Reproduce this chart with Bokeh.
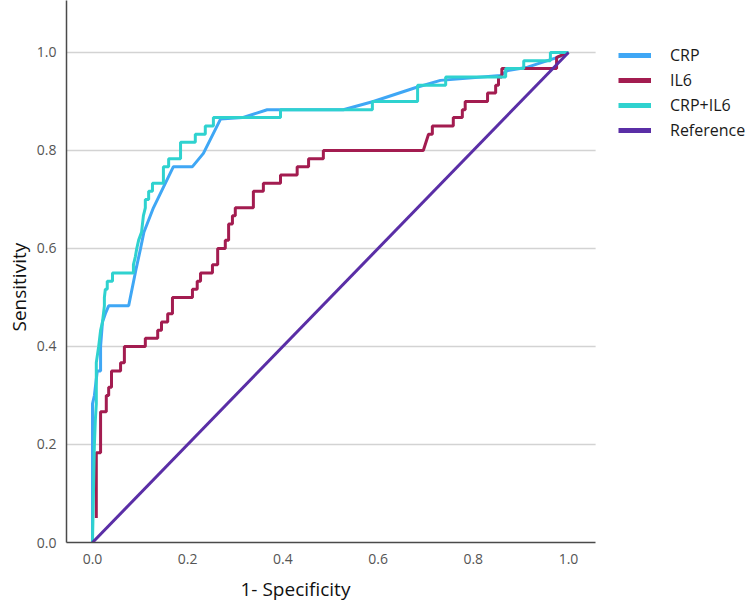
from bokeh.plotting import figure
from bokeh.models import Range1d, Legend, LegendItem, PrintfTickFormatter, Title
from bokeh.embed import file_html
from bokeh.resources import INLINE

# ---- data (1 - specificity, sensitivity) ----
crp_points = [(0.0, 0.0), (0.0, 0.283), (0.004, 0.30), (0.010, 0.35), (0.017, 0.35),
              (0.017, 0.40), (0.021, 0.45), (0.027, 0.467), (0.034, 0.483), (0.076, 0.483),
              (0.092, 0.56), (0.101, 0.60), (0.108, 0.633), (0.128, 0.683), (0.170, 0.767),
              (0.210, 0.767), (0.233, 0.794), (0.269, 0.864), (0.315, 0.867), (0.367, 0.883),
              (0.527, 0.883), (0.590, 0.90), (0.678, 0.928), (0.731, 0.943), (0.857, 0.953),
              (0.872, 0.963), (0.914, 0.97), (0.977, 0.99), (1.0, 1.0)]

il6_points = [(0.008, 0.050), (0.008, 0.183), (0.017, 0.183), (0.017, 0.267), (0.029, 0.267),
              (0.029, 0.300), (0.034, 0.300), (0.034, 0.317), (0.040, 0.317), (0.040, 0.350),
              (0.059, 0.350), (0.059, 0.367), (0.067, 0.367), (0.067, 0.400), (0.111, 0.400),
              (0.111, 0.417), (0.137, 0.417), (0.137, 0.433), (0.145, 0.433), (0.145, 0.450),
              (0.158, 0.450), (0.158, 0.467), (0.168, 0.467), (0.168, 0.500), (0.210, 0.500),
              (0.210, 0.517), (0.220, 0.517), (0.220, 0.533), (0.227, 0.533), (0.227, 0.550),
              (0.252, 0.550), (0.252, 0.567), (0.263, 0.567), (0.263, 0.600), (0.279, 0.600),
              (0.279, 0.617), (0.286, 0.617), (0.286, 0.650), (0.294, 0.650), (0.294, 0.667),
              (0.300, 0.667), (0.300, 0.683), (0.338, 0.683), (0.338, 0.717), (0.359, 0.717),
              (0.359, 0.733), (0.395, 0.733), (0.395, 0.750), (0.430, 0.750), (0.430, 0.767),
              (0.454, 0.767), (0.454, 0.783), (0.485, 0.783), (0.485, 0.800), (0.695, 0.800),
              (0.706, 0.833), (0.714, 0.833), (0.714, 0.850), (0.758, 0.850), (0.758, 0.867),
              (0.777, 0.867), (0.777, 0.883), (0.783, 0.883), (0.783, 0.900), (0.830, 0.900),
              (0.830, 0.917), (0.847, 0.917), (0.847, 0.933), (0.853, 0.933), (0.853, 0.950),
              (0.860, 0.950), (0.860, 0.967), (0.975, 0.967), (0.975, 0.990), (1.0, 1.0)]

combo_points = [(0.0, 0.0), (0.004, 0.20), (0.006, 0.25), (0.008, 0.283), (0.008, 0.367),
                (0.013, 0.40), (0.017, 0.433), (0.021, 0.45), (0.025, 0.483), (0.025, 0.50),
                (0.027, 0.517), (0.031, 0.517), (0.031, 0.533), (0.042, 0.533), (0.042, 0.55),
                (0.086, 0.55), (0.086, 0.567), (0.090, 0.583), (0.093, 0.60), (0.097, 0.617),
                (0.103, 0.633), (0.107, 0.667), (0.111, 0.683), (0.111, 0.70), (0.118, 0.70),
                (0.118, 0.717), (0.126, 0.717), (0.126, 0.733), (0.149, 0.733), (0.149, 0.767),
                (0.160, 0.767), (0.160, 0.783), (0.185, 0.783), (0.185, 0.817), (0.216, 0.817),
                (0.216, 0.833), (0.237, 0.833), (0.237, 0.85), (0.254, 0.85), (0.254, 0.867),
                (0.395, 0.867), (0.395, 0.883), (0.588, 0.883), (0.588, 0.90), (0.683, 0.90),
                (0.683, 0.933), (0.742, 0.933), (0.742, 0.95), (0.868, 0.95), (0.868, 0.967),
                (0.906, 0.967), (0.906, 0.983), (0.962, 0.983), (0.962, 1.0), (1.0, 1.0)]

ref_points = [(0.0, 0.0), (1.0, 1.0)]

series_names = ["CRP", "IL6", "CRP+IL6", "Reference"]
series_colors = ["#3FA7F5", "#A31C50", "#2FD2CF", "#5A2EA6"]
tick_values = [0.0, 0.2, 0.4, 0.6, 0.8, 1.0]
x_title = "1- Specificity"
y_title = "Sensitivity"

# axis extents (the visible plot box), wider range leaves room for the legend
X_LO, X_HI = -0.0546, 1.057
Y_LO, Y_HI = 0.0, 1.106
X_VIEW_END = 1.3824

FONT = "Open Sans"

p = figure(width=750, height=608, output_backend="svg", toolbar_location=None,
           x_range=Range1d(X_LO, X_VIEW_END), y_range=Range1d(Y_LO, Y_HI),
           min_border_left=66, min_border_right=0, min_border_top=0, min_border_bottom=65)
p.outline_line_color = None
p.background_fill_color = "white"
p.border_fill_color = "white"
p.grid.grid_line_color = None

for ax in (p.xaxis[0], p.yaxis[0]):
    ax.ticker = tick_values
    ax.formatter = PrintfTickFormatter(format="%.1f")
    ax.axis_line_color = "#4a4a4a"
    ax.axis_line_width = 1.5
    ax.major_tick_line_color = None
    ax.minor_tick_line_color = None
    ax.major_tick_out = 0
    ax.major_tick_in = 0
    ax.minor_tick_out = 0
    ax.major_label_text_font = FONT
    ax.major_label_text_font_size = "14px"
    ax.major_label_text_color = "#555555"

p.xaxis[0].bounds = (X_LO, X_HI)
p.xaxis[0].major_label_standoff = 11
p.yaxis[0].major_label_standoff = 10

# horizontal grid lines, limited to the plot box
grid_y = tick_values[1:]
p.segment(x0=[X_LO] * len(grid_y), x1=[X_HI] * len(grid_y), y0=grid_y, y1=grid_y,
          line_color="#d3d3d3", line_width=1.5)

all_points = [crp_points, il6_points, combo_points, ref_points]
items = []
for pts, name, color in zip(all_points, series_names, series_colors):
    xs = [a for a, b in pts]
    ys = [b for a, b in pts]
    p.line(xs, ys, line_color=color, line_width=3)
    key = p.line(xs[:1], ys[:1], line_color=color, line_width=5)
    items.append(LegendItem(label=name, renderers=[key]))

legend = Legend(items=items, location=(552, 401), orientation="vertical",
                glyph_width=33, glyph_height=20, label_height=20, spacing=3,
                padding=0, margin=0, label_standoff=19,
                label_text_font=FONT, label_text_font_size="16px",
                label_text_color="#1a1a1a",
                border_line_color=None, background_fill_alpha=0)
p.add_layout(legend, "center")

p.add_layout(Title(text=y_title, align="left", offset=211, standoff=4,
                   text_font=FONT, text_font_size="19px", text_font_style="normal",
                   text_color="#111111"), "left")
p.add_layout(Title(text=x_title, align="left", offset=174, standoff=14,
                   text_font=FONT, text_font_size="19px", text_font_style="normal",
                   text_color="#111111"), "below")

open("out.html", "w").write(file_html(p, INLINE))
